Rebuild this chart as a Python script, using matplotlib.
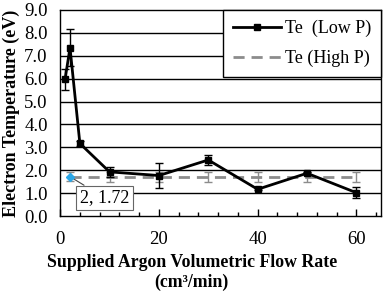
import matplotlib.pyplot as plt
from matplotlib.lines import Line2D
from matplotlib.ticker import MultipleLocator

plt.rcParams['font.family'] = ['Liberation Serif', 'DejaVu Serif']

# Te (Low P)
flow_low = [1, 2, 4, 10, 20, 30, 40, 50, 60]
te_low = [5.97, 7.35, 3.17, 1.93, 1.77, 2.45, 1.17, 1.87, 1.02]
err_low = [0.45, 0.8, 0.12, 0.22, 0.55, 0.2, 0.05, 0.05, 0.25]

# Te (High P)
flow_high = [2, 10, 20, 30, 40, 50, 60]
te_high = [1.72, 1.72, 1.72, 1.72, 1.72, 1.72, 1.72]
err_high = [0.2, 0.22, 0.22, 0.22, 0.22, 0.22, 0.22]

fig = plt.figure(figsize=(3.83, 2.92), dpi=100)
ax = fig.add_axes([0.157, 0.26, 0.838, 0.706])

# horizontal grid
for g in range(1, 9):
    ax.axhline(g, color='black', lw=1.0, zorder=0)

ax.errorbar(flow_high, te_high, yerr=err_high, color='#8c8c8c', lw=2.0,
            dashes=(4, 2.5), elinewidth=1.0, capsize=3, capthick=1.0, zorder=2)
ax.errorbar(flow_low, te_low, yerr=err_low, color='black', lw=2.0,
            marker='s', markersize=5, elinewidth=1.0, capsize=3, capthick=1.0,
            zorder=3)

# data label on first High P point
ax.plot(flow_high[0], te_high[0], marker='D', color='#2aa6e6', markersize=4, zorder=6)
ax.annotate('2, 1.72', xy=(flow_high[0], te_high[0]), xytext=(9.0, 0.8),
            fontsize=13, ha='center', va='center',
            bbox=dict(boxstyle='square,pad=0.2', fc='white', ec='#666666', lw=0.8),
            arrowprops=dict(arrowstyle='-', color='#444444', lw=0.8,
                            shrinkA=0, shrinkB=0),
            zorder=5)

ax.set_xlim(0, 65)
ax.set_ylim(0, 9)
ax.xaxis.set_major_locator(MultipleLocator(20))
ax.xaxis.set_minor_locator(MultipleLocator(4))
ax.yaxis.set_major_locator(MultipleLocator(1))
ax.yaxis.set_major_formatter(plt.FormatStrFormatter('%.1f'))
ax.tick_params(axis='x', which='major', direction='in', length=5, width=1,
               labelsize=13.5, pad=11)
ax.tick_params(axis='x', which='minor', direction='in', length=3, width=1)
ax.tick_params(axis='y', length=0, labelsize=13.5, pad=9)
for s in ax.spines.values():
    s.set_linewidth(1.0)

ax.set_xlabel('Supplied Argon Volumetric Flow Rate\n(cm³/min)',
              fontsize=12.8, fontweight='bold', linespacing=1.15)
ax.xaxis.set_label_coords(0.41, -0.185)
ax.xaxis.label.set_va('top')
ax.set_ylabel('Electron Temperature (eV)', fontsize=13, fontweight='bold')
ax.yaxis.set_label_coords(-0.153, 0.5)
ax.yaxis.label.set_va('center')

handles = [
    Line2D([], [], color='black', lw=2.0, marker='s', markersize=5),
    Line2D([], [], color='#8c8c8c', lw=2.0, dashes=(4, 2.5)),
]
leg = ax.legend(handles, ['Te  (Low P)', 'Te (High P)'], loc='upper right',
                fontsize=13, frameon=True, fancybox=False, edgecolor='black',
                borderaxespad=0, handlelength=2.7, handletextpad=0.2,
                borderpad=0.55, labelspacing=0.7)
leg.get_frame().set_linewidth(1.0)
leg.get_frame().set_alpha(1)

fig.savefig('out.png', dpi=100)
